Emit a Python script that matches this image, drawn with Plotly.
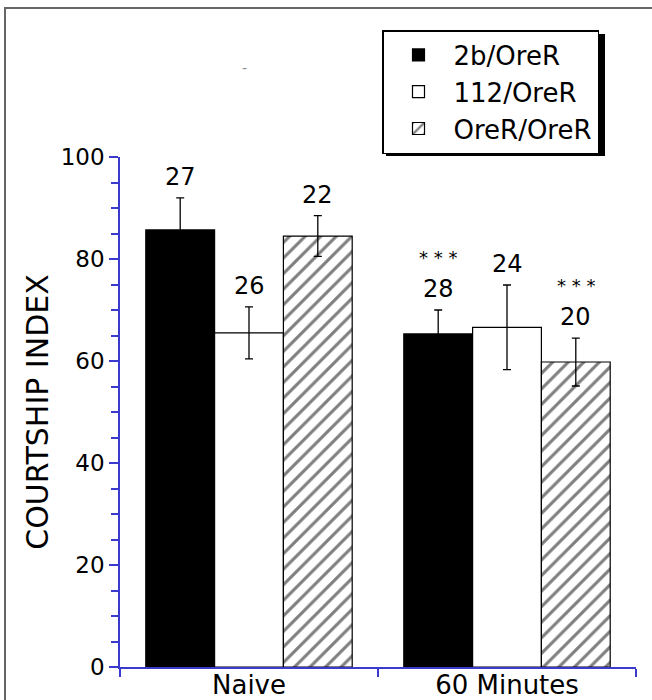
import plotly.graph_objects as go

groups = ["Naive", "60 Minutes"]
series = ["2b/OreR", "112/OreR", "OreR/OreR"]
values = {
    "2b/OreR": [85.7, 65.3],
    "112/OreR": [65.5, 66.6],
    "OreR/OreR": [84.5, 59.8],
}
errors = {
    "2b/OreR": [6.3, 4.7],
    "112/OreR": [5.1, 8.3],
    "OreR/OreR": [4.0, 4.7],
}
counts = {
    "2b/OreR": ["27", "28"],
    "112/OreR": ["26", "24"],
    "OreR/OreR": ["22", "20"],
}
stars = {
    "2b/OreR": ["", "* * *"],
    "112/OreR": ["", ""],
    "OreR/OreR": ["", "* * *"],
}
y_ticks = [0, 20, 40, 60, 80, 100]

styles = {
    "2b/OreR": dict(color="black"),
    "112/OreR": dict(color="white"),
    "OreR/OreR": dict(color="white", pattern=dict(shape="/", fgcolor="black", bgcolor="white", size=11, solidity=0.28)),
}

AX = "#3a3acc"
FONT = "DejaVu Sans"

fig = go.Figure()
for s in series:
    fig.add_trace(go.Bar(
        name=s, x=groups, y=values[s],
        marker=dict(**styles[s], line=dict(color="black", width=1.2)),
        error_y=dict(type="data", array=errors[s], color="black", thickness=1.3, width=4),
    ))

nser = len(series)
bw = 0.8 / nser
annotations = []
for j, s in enumerate(series):
    off = (j - (nser - 1) / 2) * bw
    for i, g in enumerate(groups):
        top = values[s][i] + errors[s][i]
        annotations.append(dict(x=i + off, y=top, xref="x", yref="y", text=counts[s][i],
                                showarrow=False, yanchor="bottom", yshift=5,
                                font=dict(family=FONT, size=24, color="black")))
        if stars[s][i]:
            annotations.append(dict(x=i + off, y=top, xref="x", yref="y", text=stars[s][i],
                                    showarrow=False, yanchor="bottom", yshift=40,
                                    font=dict(family=FONT, size=18, color="black")))

annotations.append(dict(x=(240 - 120) / 516, y=(667 - 58) / 510, xref="paper", yref="paper",
                        text="-", showarrow=False, font=dict(family=FONT, size=14, color="#888")))

# legend box (pixels) used for placement and its drop shadow
LG_L, LG_T, LG_R, LG_B = 382, 30, 601, 152
shapes = [
    dict(type="rect", xref="paper", yref="paper",
         x0=(LG_L + 4 - 120) / 516, x1=(LG_R + 4 - 120) / 516,
         y0=(667 - LG_B - 4) / 510, y1=(667 - LG_T - 4) / 510,
         fillcolor="black", line=dict(width=0), layer="above"),
    dict(type="rect", xref="paper", yref="paper",
         x0=(5 - 120) / 516, x1=(700 - 120) / 516,
         y0=(667 - 760) / 510, y1=(667 - 8) / 510,
         fillcolor="rgba(0,0,0,0)", line=dict(color="#666", width=2), layer="above"),
]

fig.update_layout(
    width=652, height=700,
    margin=dict(l=120, r=16, t=157, b=33, autoexpand=False),
    paper_bgcolor="white", plot_bgcolor="white",
    barmode="group", bargap=0.2, bargroupgap=0,
    font=dict(family=FONT, size=24, color="black"),
    showlegend=True,
    legend=dict(x=(LG_L - 120) / 516, y=(667 - LG_T) / 510, xanchor="left", yanchor="top",
                bgcolor="white", bordercolor="black", borderwidth=1.5,
                font=dict(family=FONT, size=26, color="black"),
                tracegroupgap=0, itemwidth=60),
    annotations=annotations,
    shapes=shapes,
    xaxis=dict(type="category", showline=True, linecolor=AX, linewidth=1.5, automargin=False,
               ticks="outside", tickson="boundaries", ticklen=8, tickcolor=AX, tickwidth=1.5,
               ticklabelstandoff=-6,
               tickfont=dict(family=FONT, size=26, color="black"), showgrid=False,
               zeroline=False),
    yaxis=dict(range=[0, 100], showline=True, linecolor=AX, linewidth=1.5, automargin=False,
               tickvals=y_ticks, ticks="outside", ticklen=9, tickcolor=AX, tickwidth=1.5,
               minor=dict(dtick=5, ticks="outside", ticklen=7, tickcolor=AX, tickwidth=1.5, showgrid=False),
               tickfont=dict(family=FONT, size=23, color="black"), showgrid=False, zeroline=False,
               title=dict(text="COURTSHIP INDEX", font=dict(family=FONT, size=30, color="black"), standoff=3)),
)

fig.write_html("out.html")
